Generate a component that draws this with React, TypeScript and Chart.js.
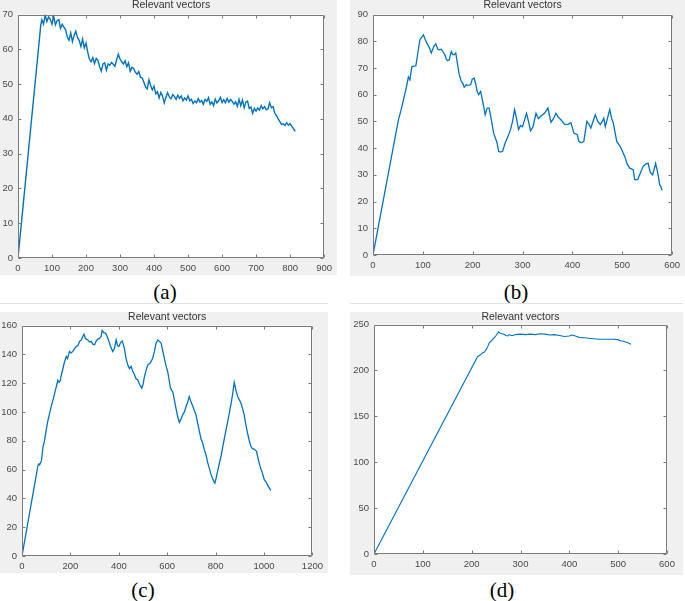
import React, { useEffect, useRef } from "react";
import { Chart, registerables } from "chart.js";

Chart.register(...registerables);

// ---------- DATA ----------
const TITLE = "Relevant vectors";

// (a)
const aX = [0, 67, 70, 75, 80, 85, 90, 95, 100, 105, 110, 115, 120, 125, 130, 135, 140, 145, 150, 155, 160, 165, 170, 175, 180, 185, 190, 195, 200, 205, 210, 215, 220, 225, 230, 235, 240, 245, 250, 255, 260, 265, 270, 275, 280, 285, 290, 295, 300, 305, 310, 315, 320, 325, 330, 335, 340, 345, 350, 355, 360, 365, 370, 375, 380, 385, 390, 395, 400, 405, 410, 415, 420, 425, 430, 435, 440, 445, 450, 455, 460, 465, 470, 475, 480, 485, 490, 495, 500, 505, 510, 515, 520, 525, 530, 535, 540, 545, 550, 555, 560, 565, 570, 575, 580, 585, 590, 595, 600, 605, 610, 615, 620, 625, 630, 635, 640, 645, 650, 655, 660, 665, 670, 675, 680, 685, 690, 695, 700, 705, 710, 715, 720, 725, 730, 735, 740, 745, 750, 755, 760, 765, 770, 775, 780, 785, 790, 795, 800, 805, 810, 815];
const aY = [0, 67, 68.5, 67.2, 69.8, 68.0, 69.3, 68.6, 67.2, 69.5, 67.0, 68.2, 68.5, 66.0, 67.2, 66.4, 65.6, 63.5, 62.6, 64.7, 62.2, 64.0, 65.2, 63.4, 62.5, 60.8, 62.9, 60.4, 61.8, 59.2, 57.2, 56.4, 57.6, 55.9, 57.4, 56.8, 55.0, 53.7, 55.8, 56.1, 54.0, 55.8, 55.4, 56.2, 55.7, 55.1, 57.0, 58.6, 57.2, 56.4, 55.8, 56.7, 55.0, 56.1, 53.7, 54.8, 54.5, 53.4, 52.8, 53.6, 52.0, 51.8, 50.6, 49.2, 48.6, 51.2, 49.6, 48.3, 49.4, 47.2, 47.8, 46.0, 47.6, 46.6, 44.6, 46.2, 47.5, 46.3, 45.8, 47.0, 46.4, 45.6, 46.8, 45.9, 46.6, 45.2, 46.0, 45.4, 46.6, 45.2, 45.6, 44.4, 45.1, 44.6, 45.8, 44.8, 45.3, 44.2, 45.6, 45.0, 46.1, 44.2, 44.9, 43.8, 45.7, 44.6, 45.2, 46.2, 44.7, 45.5, 44.6, 45.9, 44.8, 45.6, 45.0, 44.2, 44.9, 43.6, 45.6, 43.8, 45.4, 43.2, 44.8, 45.1, 43.0, 43.4, 41.6, 43.0, 42.2, 43.1, 42.5, 43.8, 42.9, 43.5, 42.6, 42.9, 44.6, 43.2, 43.5, 41.6, 40.9, 40.0, 39.2, 38.4, 38.6, 38.1, 38.9, 38.2, 38.6, 37.9, 37.2, 36.4];
const aXTicks = [0, 100, 200, 300, 400, 500, 600, 700, 800, 900];
const aYTicks = [0, 10, 20, 30, 40, 50, 60, 70];

// (b)
const bX = [0, 51, 56, 66, 71, 74, 78, 86, 94, 101, 104, 108, 112, 117, 122, 126, 130, 133, 137, 144, 147, 150, 153, 157, 160, 163, 166, 173, 177, 180, 183, 187, 190, 196, 199, 203, 206, 209, 212, 216, 222, 225, 229, 233, 238, 242, 246, 249, 252, 256, 260, 265, 271, 276, 280, 284, 288, 292, 296, 300, 308, 312, 316, 321, 327, 332, 337, 344, 351, 357, 362, 367, 372, 377, 384, 391, 397, 403, 410, 413, 418, 423, 429, 433, 437, 446, 451, 456, 460, 463, 466, 475, 479, 482, 489, 496, 500, 505, 510, 515, 522, 525, 531, 537, 542, 547, 552, 556, 561, 567, 572, 575, 577, 580];
const bY = [0, 50.6, 54, 62, 66.6, 65.5, 70.5, 70.8, 80.5, 82.4, 81, 79.3, 78, 75.6, 78, 79, 77, 76.8, 77, 75, 73.3, 72.7, 73, 76.2, 75, 75, 75.6, 67.5, 65, 64.3, 62.8, 63.7, 63.5, 63.7, 65.8, 66.2, 64, 61.2, 60, 61.2, 55.6, 52.5, 55, 55, 50, 45.6, 43.5, 41.9, 38.8, 38.5, 38.8, 41.9, 44.4, 47, 50, 54.4, 51, 47, 48.5, 48, 53, 50, 46.5, 48, 53, 51, 52, 53, 55, 49.6, 51, 53, 51.5, 50.6, 49, 48.8, 49.6, 45.6, 45, 42.5, 42, 42.5, 50, 49, 47.5, 52.5, 50, 48.8, 50, 51.2, 48, 54.4, 51, 49.4, 42.5, 40.6, 39, 36.9, 34, 32.5, 31.9, 28.2, 28.2, 31, 33.2, 34, 34.4, 31, 30, 34.3, 30, 26.3, 25.8, 24.2];
const bXTicks = [0, 100, 200, 300, 400, 500, 600];
const bYTicks = [0, 10, 20, 30, 40, 50, 60, 70, 80, 90];

// (c)
const cX = [0, 66, 70, 73, 80, 87, 93, 100, 107, 114, 121, 128, 138, 148, 153, 158, 163, 169, 176, 183, 188, 196, 203, 210, 217, 224, 231, 238, 245, 250, 256, 262, 272, 279, 286, 293, 300, 306, 313, 320, 327, 331, 338, 345, 350, 355, 365, 375, 382, 389, 395, 400, 407, 414, 423, 430, 437, 444, 451, 458, 465, 471, 478, 486, 495, 500, 506, 513, 520, 530, 540, 547, 554, 561, 568, 575, 582, 588, 595, 602, 608, 613, 618, 623, 630, 636, 643, 650, 657, 664, 671, 678, 685, 691, 698, 705, 712, 719, 726, 733, 740, 746, 753, 760, 767, 774, 780, 787, 792, 797, 802, 808, 815, 822, 832, 843, 853, 863, 870, 877, 884, 891, 898, 905, 912, 918, 925, 932, 939, 946, 952, 959, 964, 969, 975, 980, 986, 991, 996, 1001, 1008, 1014, 1021, 1028];
const cY = [0, 62.9, 64, 63.3, 66, 76, 80, 87.6, 94, 99, 104, 108.4, 115, 122, 120.5, 121.6, 126, 130, 135, 138.5, 137, 142, 141, 142, 144, 145.4, 146, 149, 150, 152, 154, 151, 150, 148.5, 149, 147, 146.6, 149, 150.6, 151, 152.4, 156.5, 155, 154.7, 153, 151, 146, 142, 144, 150, 146, 145.4, 148, 149.3, 144.3, 137, 132.7, 130, 131.6, 128, 125.8, 123, 122.3, 119, 116.5, 119, 124.6, 129, 132.7, 134, 137.3, 142, 147.7, 150, 149, 147.7, 142, 137.3, 132, 128, 122, 117, 115, 114, 108, 102.7, 97, 92.7, 95, 98, 100, 103.8, 107, 110.7, 107, 104.3, 101, 98, 92, 86.5, 81, 78.8, 74, 70.3, 65, 61, 57, 54, 52, 50.6, 54, 58.7, 64, 69, 78, 87.6, 96, 105, 112, 120.5, 115, 110.7, 108.5, 106, 102, 98, 91, 85.3, 80, 76, 74.5, 74.2, 73.5, 72.6, 68, 64.5, 61, 58.7, 56, 53, 51.5, 49.5, 47.5, 45.5];
const cXTicks = [0, 200, 400, 600, 800, 1000, 1200];
const cYTicks = [0, 20, 40, 60, 80, 100, 120, 140, 160];

// (d)
const dX = [0, 212, 218, 222, 226, 229, 233, 236, 240, 243, 247, 250, 255, 258, 263, 267, 270, 274, 277, 281, 284, 290, 300, 310, 320, 330, 340, 350, 360, 370, 380, 390, 400, 405, 410, 415, 420, 430, 440, 450, 460, 470, 480, 490, 500, 505, 510, 515, 520, 526];
const dY = [0, 215, 217, 219, 220, 222, 226, 230, 232, 233.7, 236, 238, 242, 240.5, 240, 239, 238, 237.5, 239, 238, 238, 239, 239.5, 239, 239.5, 239, 240, 239.5, 238.5, 239, 238, 237, 237.5, 238.5, 238, 237, 236, 235.5, 235, 234.5, 234, 234, 234, 234, 233.5, 232, 232, 231, 230, 228.5];
const dXTicks = [0, 100, 200, 300, 400, 500, 600];
const dYTicks = [0, 50, 100, 150, 200, 250];

const CAPTIONS = ["(a)", "(b)", "(c)", "(d)"];

// ---------- STYLE ----------
const LINE_COLOR = "#0072BD";
const BOX_COLOR = "#7a7a7a";
const LABEL_COLOR = "#4a4a4a";
const PANEL_BG = "#f0f0f0";
const SANS = "'Liberation Sans', Arial, sans-serif";

const matlabBox = {
  id: "matlabBox",
  beforeDraw(chart: any) {
    const { ctx, chartArea: a } = chart;
    ctx.save();
    ctx.fillStyle = "#ffffff";
    ctx.fillRect(a.left, a.top, a.right - a.left, a.bottom - a.top);
    ctx.restore();
  },
  afterDatasetsDraw(chart: any) {
    const { ctx, chartArea: a, scales } = chart;
    const L = Math.round(a.left) + 0.5;
    const R = Math.round(a.right) - 0.5;
    const T = Math.round(a.top) + 0.5;
    const B = Math.round(a.bottom) - 0.5;
    const len = 3;
    ctx.save();
    ctx.strokeStyle = BOX_COLOR;
    ctx.lineWidth = 1;
    ctx.beginPath();
    ctx.rect(L, T, R - L, B - T);
    for (const t of scales.x.ticks) {
      const px = Math.round(scales.x.getPixelForValue(t.value)) + 0.5;
      ctx.moveTo(px, B);
      ctx.lineTo(px, B - len);
      ctx.moveTo(px, T);
      ctx.lineTo(px, T + len);
    }
    for (const t of scales.y.ticks) {
      const py = Math.round(scales.y.getPixelForValue(t.value)) + 0.5;
      ctx.moveTo(L, py);
      ctx.lineTo(L + len, py);
      ctx.moveTo(R, py);
      ctx.lineTo(R - len, py);
    }
    ctx.stroke();
    ctx.restore();
  },
};

type PanelProps = {
  xs: number[];
  ys: number[];
  xTicks: number[];
  yTicks: number[];
  caption: string;
  left: number;
  top: number;
  width: number;
  height: number;
  yAxisW: number;
  xAxisH: number;
  padRight: number;
  titleGap: number;
  capX: number;
  capY: number;
  lineW: number;
};

function Panel(p: PanelProps) {
  const ref = useRef<HTMLCanvasElement | null>(null);
  useEffect(() => {
    if (!ref.current) return;
    const tickFont = { family: SANS, size: 9.5 };
    const chart = new Chart(ref.current, {
      type: "line",
      data: {
        datasets: [
          {
            data: p.xs.map((x, i) => ({ x, y: p.ys[i] })),
            borderColor: LINE_COLOR,
            borderWidth: p.lineW,
            pointRadius: 0,
            tension: 0,
            fill: false,
          },
        ],
      },
      options: {
        animation: false,
        responsive: false,
        devicePixelRatio: 1,
        layout: { padding: { left: 0, top: 0, right: p.padRight, bottom: 0 } },
        plugins: {
          legend: { display: false },
          tooltip: { enabled: false },
          title: {
            display: true,
            text: TITLE,
            fullSize: false,
            color: "#333333",
            font: { family: SANS, size: 10.5, weight: "normal", lineHeight: 1 },
            padding: { top: 0, bottom: p.titleGap },
          },
        },
        scales: {
          x: {
            type: "linear",
            min: p.xTicks[0],
            max: p.xTicks[p.xTicks.length - 1],
            afterBuildTicks: (s: any) => {
              s.ticks = p.xTicks.map((v) => ({ value: v }));
            },
            afterFit: (s: any) => {
              s.height = p.xAxisH;
            },
            ticks: {
              padding: 5,
              font: tickFont,
              color: LABEL_COLOR,
              maxRotation: 0,
              autoSkip: false,
              callback: (v: any) => String(v),
            },
            grid: { display: false, drawTicks: false },
            border: { display: false },
          },
          y: {
            type: "linear",
            min: p.yTicks[0],
            max: p.yTicks[p.yTicks.length - 1],
            afterBuildTicks: (s: any) => {
              s.ticks = p.yTicks.map((v) => ({ value: v }));
            },
            afterFit: (s: any) => {
              s.width = p.yAxisW;
            },
            ticks: {
              padding: 5,
              font: tickFont,
              color: LABEL_COLOR,
              autoSkip: false,
              callback: (v: any) => String(v),
            },
            grid: { display: false, drawTicks: false },
            border: { display: false },
          },
        },
      } as any,
      plugins: [matlabBox],
    });
    return () => chart.destroy();
  }, []);

  return (
    <>
      <div
        style={{
          position: "absolute",
          left: p.left,
          top: p.top,
          width: p.width,
          height: p.height,
          background: PANEL_BG,
        }}
      >
        <canvas
          ref={ref}
          width={p.width}
          height={p.height}
          style={{ display: "block", width: p.width, height: p.height }}
        />
      </div>
      <div
        style={{
          position: "absolute",
          left: p.capX,
          top: p.capY,
          transform: "translate(-50%, -50%)",
          fontFamily: "'Liberation Serif', 'Times New Roman', serif",
          fontSize: 21,
          lineHeight: 1,
          color: "#000",
          whiteSpace: "nowrap",
        }}
      >
        {p.caption}
      </div>
    </>
  );
}

export default function App() {
  return (
    <div
      style={{
        position: "fixed",
        left: 0,
        top: 0,
        width: 685,
        height: 601,
        overflow: "hidden",
        background: "#ffffff",
      }}
    >
      <Panel xs={aX} ys={aY} xTicks={aXTicks} yTicks={aYTicks} caption={CAPTIONS[0]}
        left={0} top={0} width={337} height={275} yAxisW={18} xAxisH={17} padRight={12} titleGap={4}
        capX={165} capY={292} lineW={1.4} />
      <Panel xs={bX} ys={bY} xTicks={bXTicks} yTicks={bYTicks} caption={CAPTIONS[1]}
        left={350} top={0} width={335} height={276} yAxisW={23} xAxisH={21} padRight={8} titleGap={4}
        capX={516} capY={292} lineW={1.3} />
      <Panel xs={cX} ys={cY} xTicks={cXTicks} yTicks={cYTicks} caption={CAPTIONS[2]}
        left={0} top={312} width={328} height={261} yAxisW={22} xAxisH={17} padRight={15} titleGap={3}
        capX={143} capY={590} lineW={1.3} />
      <Panel xs={dX} ys={dY} xTicks={dXTicks} yTicks={dYTicks} caption={CAPTIONS[3]}
        left={350} top={312} width={333} height={263} yAxisW={24} xAxisH={21} padRight={16} titleGap={2}
        capX={502} capY={590} lineW={1.1} />
      <div style={{ position: "absolute", left: 0, top: 303, width: 328, height: 1, background: "#e2e2e2" }} />
      <div style={{ position: "absolute", left: 350, top: 303, width: 333, height: 1, background: "#e2e2e2" }} />
    </div>
  );
}
